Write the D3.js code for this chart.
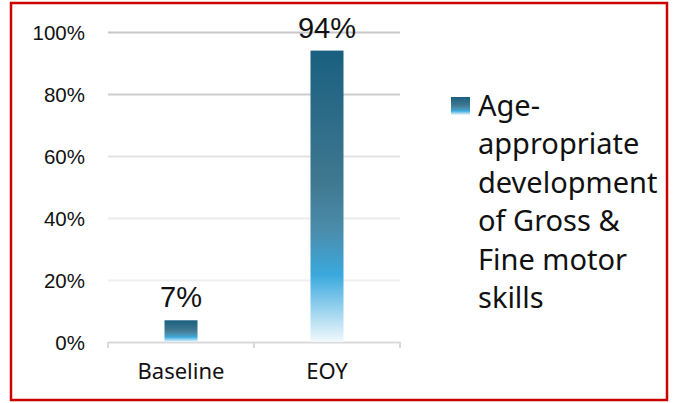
<!DOCTYPE html>
<html lang="en">
<head>
<meta charset="utf-8">
<title>Gross & Fine motor skills</title>
<script src="https://cdn.jsdelivr.net/npm/d3@7"></script>
<style>
  body { margin: 0; background: #fff; }
  .axis .domain { stroke: #d9d9d9; stroke-width: 2; }
  .y.axis .domain { display: none; }
  .y.axis line { stroke: #cfcfcf; stroke-width: 2; }
  .y.axis text { font-family: "Liberation Sans", Arial, sans-serif; font-size: 20.5px; fill: #111; }
  .x.axis line { stroke: #d9d9d9; stroke-width: 2; }
  .x.axis text { font-family: "Noto Sans", sans-serif; font-size: 22px; fill: #111; }
  .label { font-family: "Liberation Sans", Arial, sans-serif; font-size: 29px; fill: #111; }
  .legend text { font-family: "Noto Sans", sans-serif; font-size: 29px; fill: #111; }
</style>
</head>
<body>
<script>
var categories = ['Baseline', 'EOY'];
var values = [0.07, 0.94];
var yTicks = [0, 0.2, 0.4, 0.6, 0.8, 1.0];
var legendLines = ['Age-', 'appropriate', 'development', 'of Gross &', 'Fine motor', 'skills'];

var w = 678, h = 403;
var plot = {left: 108, right: 400, top: 32, bottom: 342};

var svg = d3.select('body').append('svg')
    .attr('width', w)
    .attr('height', h);

// bar fill
var defs = svg.append('defs');
var grad = defs.append('linearGradient')
    .attr('id', 'barFill')
    .attr('x1', 0).attr('y1', 0).attr('x2', 0).attr('y2', 1);
[[0, '#1a5f80'], [0.45, '#3f7890'], [0.62, '#4b8dac'], [0.77, '#3aa9de'], [1, '#f2f9fd']]
  .forEach(function(s) {
    grad.append('stop').attr('offset', s[0]).attr('stop-color', s[1]);
  });

// red frame
svg.append('rect')
    .attr('x', 11).attr('y', 3)
    .attr('width', 656).attr('height', 397)
    .attr('fill', 'none')
    .attr('stroke', '#cc0000')
    .attr('stroke-width', 2.5);

var x = d3.scaleBand().domain(categories).range([plot.left, plot.right]).paddingInner(0).paddingOuter(0);
var y = d3.scaleLinear().domain([0, 1]).range([plot.bottom, plot.top]);

var gridColor = ['#d9d9d9', '#efefef', '#ebebeb', '#e3e3e3', '#cdcdcd', '#c8c8c8'];

var yAxis = d3.axisLeft(y)
    .tickValues(yTicks)
    .tickFormat(d3.format('.0%'))
    .tickSize(-(plot.right - plot.left))
    .tickPadding(23);
var gy = svg.append('g')
    .attr('class', 'y axis')
    .attr('transform', 'translate(' + plot.left + ',0)')
    .call(yAxis);
gy.selectAll('.tick line').style('stroke', function(d, i) { return gridColor[i]; });
gy.selectAll('.tick').filter(function(d) { return d === 0; }).select('line').remove();
gy.selectAll('text').attr('dy', '0.35em');

var xAxis = d3.axisBottom(x).tickSize(0).tickPadding(21);
var gx = svg.append('g')
    .attr('class', 'x axis')
    .attr('transform', 'translate(0,' + plot.bottom + ')')
    .call(xAxis);
// category separators
gx.selectAll('.sep')
    .data([plot.left, plot.left + x.bandwidth(), plot.right])
  .enter().append('line')
    .attr('class', 'sep')
    .attr('x1', function(d) { return d; }).attr('x2', function(d) { return d; })
    .attr('y1', 0).attr('y2', 6);

var barW = 33;
svg.selectAll('.bar')
    .data(values)
  .enter().append('rect')
    .attr('class', 'bar')
    .attr('x', function(d, i) { return x(categories[i]) + x.bandwidth() / 2 - barW / 2; })
    .attr('y', function(d) { return y(d); })
    .attr('width', barW)
    .attr('height', function(d) { return plot.bottom - y(d); })
    .attr('fill', 'url(#barFill)');

svg.selectAll('.label')
    .data(values)
  .enter().append('text')
    .attr('class', 'label')
    .attr('text-anchor', 'middle')
    .attr('x', function(d, i) { return x(categories[i]) + x.bandwidth() / 2; })
    .attr('y', function(d) { return y(d) - 13; })
    .text(function(d) { return d3.format('.0%')(d); });

// legend
var lg = svg.append('g').attr('class', 'legend');
lg.append('rect')
    .attr('x', 451).attr('y', 97)
    .attr('width', 19).attr('height', 18)
    .attr('fill', 'url(#barFill)');
lg.selectAll('text')
    .data(legendLines)
  .enter().append('text')
    .attr('x', 478)
    .attr('y', function(d, i) { return 116 + i * 38.4; })
    .text(function(d) { return d; });
</script>
</body>
</html>
